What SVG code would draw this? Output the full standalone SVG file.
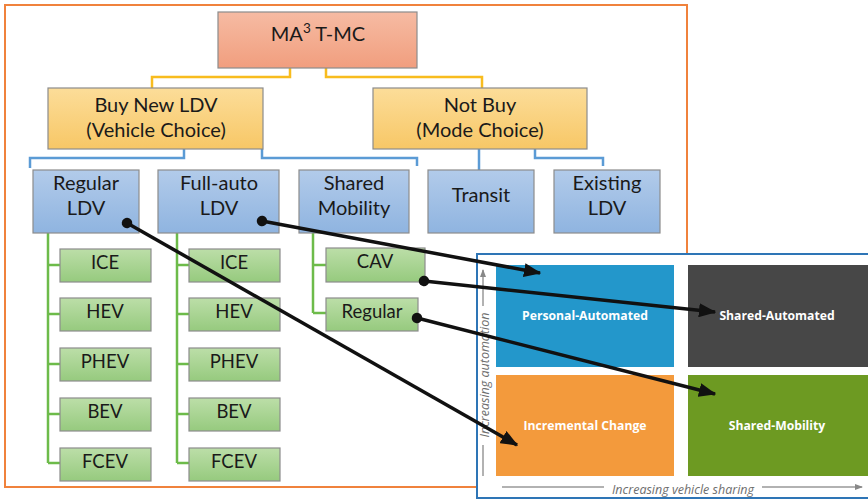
<svg xmlns="http://www.w3.org/2000/svg" width="868" height="499" viewBox="0 0 868 499">
<defs>
<linearGradient id="gTop" x1="0" y1="0" x2="0" y2="1"><stop offset="0" stop-color="#F6BBA3"/><stop offset="1" stop-color="#F19E7E"/></linearGradient>
<linearGradient id="gYel" x1="0" y1="0" x2="0" y2="1"><stop offset="0" stop-color="#FCDD99"/><stop offset="1" stop-color="#F7C766"/></linearGradient>
<linearGradient id="gBlue" x1="0" y1="0" x2="0" y2="1"><stop offset="0" stop-color="#B2CBEA"/><stop offset="1" stop-color="#8FB4E0"/></linearGradient>
<linearGradient id="gGreen" x1="0" y1="0" x2="0" y2="1"><stop offset="0" stop-color="#BCDEA8"/><stop offset="1" stop-color="#96CA7E"/></linearGradient>
<marker id="arr" markerWidth="5" markerHeight="4" refX="4.6" refY="2" orient="auto" markerUnits="strokeWidth"><path d="M0,0 L5,2 L0,4 Z" fill="#111"/></marker>
<marker id="dot" markerWidth="4" markerHeight="4" refX="2" refY="2" orient="auto" markerUnits="strokeWidth"><circle cx="2" cy="2" r="1.5" fill="#111"/></marker>
<marker id="ax" markerWidth="8" markerHeight="6" refX="7" refY="3" orient="auto" markerUnits="userSpaceOnUse"><path d="M0,0 L8,3 L0,6 Z" fill="#888"/></marker>
</defs>
<style>
.box{stroke:#8C8C8C;stroke-width:1.2}
.t{font-family:Lato,"Open Sans","Liberation Sans",sans-serif;font-size:20px;fill:#1A1A1A;text-anchor:middle}
.tg{font-family:Lato,"Open Sans","Liberation Sans",sans-serif;font-size:18.5px;fill:#1A1A1A;text-anchor:middle}
.yl{fill:none;stroke:#F8BC1E;stroke-width:2.5}
.bl{fill:none;stroke:#5B9BD5;stroke-width:2.5}
.gl{fill:none;stroke:#6DBB4A;stroke-width:2.5}
.bk{fill:none;stroke:#111;stroke-width:3.5;marker-start:url(#dot);marker-end:url(#arr)}
.q{font-family:"Open Sans","Liberation Sans",sans-serif;font-size:12.2px;font-weight:bold;fill:#FFFFFF;text-anchor:middle}
.axt{font-family:"Open Sans","Liberation Sans",sans-serif;font-size:12.5px;font-style:italic;fill:#6E6E6E;text-anchor:middle}
.axl{fill:none;stroke:#999;stroke-width:1.5}
</style>
<rect width="868" height="499" fill="#FFFFFF"/>
<rect x="5" y="5" width="682" height="482" fill="none" stroke="#F0823C" stroke-width="2"/>

<g id="tree-connectors">
<path class="yl" d="M290,68 V77 H152 V88"/>
<path class="yl" d="M326,68 V77 H482 V88"/>
<path class="bl" d="M184,149 V158 H30 V168"/>
<path class="bl" d="M262,149 V158 H417 V166"/>
<path class="bl" d="M479,149 V170"/>
<path class="bl" d="M535,149 V158 H603 V166"/>
<path class="gl" d="M48,233 V463 M48,265 H60 M48,314 H60 M48,364 H60 M48,414 H60 M48,463 H60"/>
<path class="gl" d="M177,233 V463 M177,265 H189 M177,314 H189 M177,364 H189 M177,414 H189 M177,463 H189"/>
<path class="gl" d="M313,233 V313 M313,265 H326 M313,313 H326"/>
<path class="gl" d="M100,223 V233"/>
</g>

<g id="n-top"><rect class="box" x="218" y="12" width="199" height="56" fill="url(#gTop)"/><text class="t" x="318" y="41" font-size="20.5">MA<tspan dy="-8" font-size="13.5">3</tspan><tspan dy="8"> T-MC</tspan></text></g>
<g id="n-buy"><rect class="box" x="48" y="88" width="215" height="61" fill="url(#gYel)"/><text class="t" x="156" y="112">Buy New LDV</text><text class="t" x="156" y="137">(Vehicle Choice)</text></g>
<g id="n-notbuy"><rect class="box" x="373" y="88" width="214" height="61" fill="url(#gYel)"/><text class="t" x="480" y="112">Not Buy</text><text class="t" x="480" y="137">(Mode Choice)</text></g>

<g id="n-regldv"><rect class="box" x="33" y="170" width="106" height="63" fill="url(#gBlue)"/><text class="t" x="86" y="190">Regular</text><text class="t" x="86" y="215">LDV</text></g>
<g id="n-fullauto"><rect class="box" x="158" y="170" width="121" height="63" fill="url(#gBlue)"/><text class="t" x="219" y="190">Full-auto</text><text class="t" x="219" y="215">LDV</text></g>
<g id="n-shared"><rect class="box" x="299" y="170" width="110" height="63" fill="url(#gBlue)"/><text class="t" x="354" y="190">Shared</text><text class="t" x="354" y="215">Mobility</text></g>
<g id="n-transit"><rect class="box" x="428" y="170" width="106" height="63" fill="url(#gBlue)"/><text class="t" x="481" y="202">Transit</text></g>
<g id="n-existing"><rect class="box" x="554" y="170" width="106" height="63" fill="url(#gBlue)"/><text class="t" x="607" y="190">Existing</text><text class="t" x="607" y="215">LDV</text></g>

<g id="n-r-ice"><rect class="box" x="60" y="249" width="91" height="33" fill="url(#gGreen)"/><text class="tg" x="105" y="269">ICE</text></g>
<g id="n-r-hev"><rect class="box" x="60" y="298" width="91" height="33" fill="url(#gGreen)"/><text class="tg" x="105" y="318">HEV</text></g>
<g id="n-r-phev"><rect class="box" x="60" y="348" width="91" height="33" fill="url(#gGreen)"/><text class="tg" x="105" y="368">PHEV</text></g>
<g id="n-r-bev"><rect class="box" x="60" y="398" width="91" height="33" fill="url(#gGreen)"/><text class="tg" x="105" y="418">BEV</text></g>
<g id="n-r-fcev"><rect class="box" x="60" y="448" width="91" height="33" fill="url(#gGreen)"/><text class="tg" x="105" y="468">FCEV</text></g>

<g id="n-f-ice"><rect class="box" x="189" y="249" width="91" height="33" fill="url(#gGreen)"/><text class="tg" x="234" y="269">ICE</text></g>
<g id="n-f-hev"><rect class="box" x="189" y="298" width="91" height="33" fill="url(#gGreen)"/><text class="tg" x="234" y="318">HEV</text></g>
<g id="n-f-phev"><rect class="box" x="189" y="348" width="91" height="33" fill="url(#gGreen)"/><text class="tg" x="234" y="368">PHEV</text></g>
<g id="n-f-bev"><rect class="box" x="189" y="398" width="91" height="33" fill="url(#gGreen)"/><text class="tg" x="234" y="418">BEV</text></g>
<g id="n-f-fcev"><rect class="box" x="189" y="448" width="91" height="33" fill="url(#gGreen)"/><text class="tg" x="234" y="468">FCEV</text></g>

<g id="n-cav"><rect class="box" x="326" y="248" width="99" height="34" fill="url(#gGreen)"/><text class="tg" x="375" y="268">CAV</text></g>
<g id="n-sreg"><rect class="box" x="326" y="298" width="92" height="33" fill="url(#gGreen)"/><text class="tg" x="372" y="318">Regular</text></g>

<g id="quadrant-panel">
<rect x="477" y="254" width="395" height="244" fill="#FFFFFF" stroke="#2E75B6" stroke-width="2"/>
<g id="q-pa"><rect x="496" y="265" width="178" height="102" fill="#2397CB"/><text class="q" x="585" y="320">Personal-Automated</text></g>
<g id="q-sa"><rect x="688" y="265" width="180" height="102" fill="#474747"/><text class="q" x="777" y="320">Shared-Automated</text></g>
<g id="q-ic"><rect x="496" y="375" width="178" height="101" fill="#F39A3C"/><text class="q" x="585" y="430">Incremental Change</text></g>
<g id="q-sm"><rect x="688" y="375" width="180" height="101" fill="#6D9A22"/><text class="q" x="777" y="430">Shared-Mobility</text></g>
<path class="axl" d="M483,476 V445"/>
<path class="axl" d="M483,306 V270" marker-end="url(#ax)"/>
<text class="axt" transform="translate(489,375) rotate(-90)">Increasing automation</text>
<path class="axl" d="M502,487 H604"/>
<path class="axl" d="M762,487 H862" marker-end="url(#ax)"/>
<text class="axt" x="683" y="494">Increasing vehicle sharing</text>
</g>

<g id="connectors">
<path class="bk" d="M127,223 L517,445"/>
<path class="bk" d="M262,221 L540,273"/>
<path class="bk" d="M424,281 L715,312"/>
<path class="bk" d="M417,318 L715,394"/>
</g>
</svg>
